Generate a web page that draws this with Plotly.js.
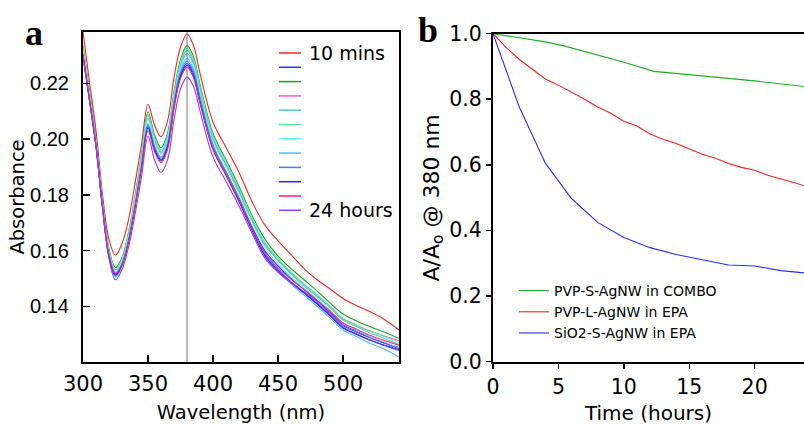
<!DOCTYPE html>
<html><head><meta charset="utf-8">
<script src="https://cdn.plot.ly/plotly-3.0.1.min.js"></script>
<style>html,body{margin:0;padding:0;background:#fff;overflow:hidden}#chart{width:804px;height:425px}</style>
</head><body><div id="chart"></div>
<script>
// ---------- Panel a: absorbance spectra ----------
const wavelength = [300,305,310,315,320,325,330,335,340,345,350,355,360,365,370,375,380,385,390,400,410,420,430,440,450,460,470,480,490,500,510,520,530,543];
const spec10min  = [.2385,.2205,.2030,.1800,.1640,.1583,.1625,.1710,.1840,.1980,.2125,.2050,.2008,.2065,.2220,.2330,.2377,.2335,.2235,.2060,.1970,.1880,.1775,.1690,.1635,.1585,.1535,.1495,.1462,.1428,.1403,.1382,.1358,.1315];
const specDarkBlue = [.2305,.2145,.1980,.1760,.1582,.1515,.1552,.1638,.1765,.1908,.2045,.1968,.1925,.1975,.2122,.2230,.2272,.2235,.2140,.1975,.1882,.1788,.1685,.1598,.1545,.1500,.1460,.1420,.1378,.1335,.1312,.1290,.1272,.1252];
const specGreen  = [.2335,.2170,.2000,.1780,.1605,.1538,.1575,.1665,.1795,.1945,.2098,.2015,.1968,.2020,.2170,.2285,.2335,.2295,.2195,.2020,.1925,.1830,.1725,.1640,.1580,.1535,.1495,.1455,.1412,.1372,.1348,.1328,.1310,.1285];
const specMagenta = [.2310,.2150,.1985,.1765,.1590,.1522,.1560,.1648,.1778,.1925,.2075,.1995,.1950,.1998,.2148,.2260,.2308,.2270,.2172,.1998,.1905,.1810,.1708,.1618,.1565,.1518,.1478,.1440,.1398,.1355,.1333,.1312,.1296,.1276];
const specTeal   = [.2325,.2160,.1990,.1770,.1595,.1530,.1565,.1655,.1785,.1935,.2085,.2000,.1955,.2005,.2155,.2268,.2318,.2278,.2180,.2005,.1910,.1815,.1710,.1622,.1565,.1515,.1472,.1435,.1395,.1350,.1328,.1305,.1288,.1262];
const specLightGreen = [.2330,.2165,.1995,.1775,.1600,.1532,.1570,.1660,.1790,.1940,.2090,.2005,.1960,.2012,.2162,.2276,.2326,.2286,.2188,.2012,.1918,.1822,.1718,.1628,.1572,.1522,.1480,.1442,.1400,.1356,.1334,.1312,.1295,.1270];
const specCyan   = [.2315,.2152,.1985,.1765,.1588,.1525,.1560,.1648,.1776,.1922,.2070,.1990,.1945,.1995,.2145,.2255,.2302,.2262,.2165,.1992,.1898,.1802,.1700,.1608,.1552,.1505,.1465,.1428,.1385,.1338,.1315,.1292,.1275,.1250];
const specLightBlue = [.2300,.2140,.1975,.1755,.1578,.1505,.1545,.1632,.1760,.1905,.2055,.1975,.1935,.1985,.2135,.2245,.2290,.2250,.2152,.1980,.1882,.1785,.1680,.1582,.1525,.1480,.1440,.1400,.1358,.1315,.1292,.1268,.1250,.1218];
const specMedBlue = [.2300,.2140,.1975,.1755,.1578,.1510,.1548,.1634,.1760,.1904,.2050,.1972,.1930,.1980,.2128,.2238,.2280,.2240,.2145,.1975,.1880,.1785,.1682,.1588,.1532,.1488,.1450,.1410,.1368,.1325,.1302,.1280,.1262,.1240];
const specBlue   = [.2300,.2140,.1975,.1755,.1580,.1512,.1548,.1632,.1756,.1898,.2040,.1962,.1920,.1970,.2116,.2225,.2265,.2226,.2132,.1962,.1870,.1775,.1672,.1580,.1528,.1485,.1447,.1408,.1366,.1322,.1300,.1280,.1263,.1245];
const specPinkRed = [.2305,.2145,.1980,.1760,.1585,.1518,.1552,.1635,.1758,.1895,.2030,.1955,.1915,.1962,.2108,.2218,.2258,.2220,.2128,.1965,.1875,.1782,.1680,.1590,.1538,.1497,.1460,.1422,.1382,.1340,.1318,.1297,.1280,.1260];
const spec24h    = [.2295,.2135,.1970,.1750,.1570,.1495,.1532,.1612,.1730,.1865,.2010,.1925,.1880,.1925,.2070,.2180,.2222,.2188,.2100,.1935,.1848,.1760,.1662,.1572,.1522,.1485,.1452,.1415,.1373,.1330,.1308,.1288,.1270,.1248];
const spectra = [spec10min, specDarkBlue, specGreen, specMagenta, specTeal, specLightGreen, specCyan, specLightBlue, specMedBlue, specBlue, specPinkRed, spec24h];
const spectraLabels = ["10 mins","","","","","","","","","","","24 hours"];
const spectraColors = ["#ff2222","#2233ff","#22a022","#ff55dd","#55c8c8","#55ee9a","#55ffff","#55b8ff","#5577ff","#2222ff","#ff2266","#8c3cff"];
const markerWavelength = 380;
const xTicksA = [300,350,400,450,500];
const yTicksA = [0.14,0.16,0.18,0.20,0.22];

// ---------- Panel b: normalized absorbance vs time ----------
const timeGreen = [0,2,4,5.5,8,10,12.3,16,20,24];
const ratioGreen = [1.0,0.987,0.975,0.962,0.935,0.913,0.885,0.871,0.856,0.838];
const timeRed = [0,1,2,3,4,5,6,7,8,9,10,11,12,13,14,15,16,17,18,19,20,21,22,23,24];
const ratioRed = [1.0,0.958,0.922,0.892,0.862,0.843,0.822,0.800,0.776,0.757,0.733,0.718,0.694,0.678,0.665,0.648,0.632,0.620,0.604,0.592,0.583,0.568,0.558,0.546,0.533];
const timeBlue = [0,2,4,6,8,10,12,14,16,18,20,22,24];
const ratioBlue = [1.0,0.777,0.605,0.497,0.424,0.378,0.347,0.326,0.310,0.294,0.291,0.277,0.269];
const seriesB = [
  {name:"PVP-S-AgNW in COMBO", t:timeGreen, v:ratioGreen, color:"#22aa22"},
  {name:"PVP-L-AgNW in EPA",   t:timeRed,   v:ratioRed,   color:"#ff2020"},
  {name:"SiO2-S-AgNW in EPA",  t:timeBlue,  v:ratioBlue,  color:"#2a2aff"}
];
const xTicksB = [0,5,10,15,20];
const yTicksB = [0.0,0.2,0.4,0.6,0.8,1.0];

const W = 804, H = 425;
const FONT = "DejaVu Sans, Verdana, sans-serif";

const traces = [];
spectra.forEach((s, i) => {
  traces.push({x: wavelength, y: s, type: "scatter", mode: "lines", name: spectraLabels[i] || ("spectrum " + (i+1)),
    line: {color: spectraColors[i], width: 1.1, shape: "spline", smoothing: 1.0}, xaxis: "x", yaxis: "y", showlegend: false});
});
seriesB.forEach(s => {
  traces.push({x: s.t, y: s.v, type: "scatter", mode: "lines", name: s.name,
    line: {color: s.color, width: 1.1}, xaxis: "x2", yaxis: "y2", legend: "legend2", showlegend: true});
});

// legend for panel a drawn as line samples + two labels
const shapes = [{type: "line", xref: "x", yref: "y domain", x0: markerWavelength, x1: markerWavelength, y0: 0, y1: 1,
  line: {color: "#777", width: 1}}];
const annotations = [];
const legA = {x0: 279, x1: 301, top: 53, step: 14.3};
spectraColors.forEach((c, i) => {
  const yp = 1 - (legA.top + i*legA.step)/H;
  shapes.push({type: "line", xref: "paper", yref: "paper", x0: legA.x0/W, x1: legA.x1/W, y0: yp, y1: yp,
    line: {color: c, width: 1.5}});
  if (spectraLabels[i]) {
    annotations.push({xref: "paper", yref: "paper", x: 307/W, y: yp, xanchor: "left", yanchor: "middle",
      text: spectraLabels[i], showarrow: false, font: {family: FONT, size: 19, color: "#000"}});
  }
});
annotations.push({xref:"paper", yref:"paper", x: 34/W, y: 1 - 33/H, xanchor:"center", yanchor:"middle", text:"<b>a</b>",
  showarrow:false, font:{family:"Liberation Serif, Times New Roman, serif", size:36, color:"#000"}});
annotations.push({xref:"paper", yref:"paper", x: 428/W, y: 1 - 30/H, xanchor:"center", yanchor:"middle", text:"<b>b</b>",
  showarrow:false, font:{family:"Liberation Serif, Times New Roman, serif", size:36, color:"#000"}});

const axisCommon = {showline: true, linecolor: "#000", linewidth: 2, showgrid: false, zeroline: false,
  tickcolor: "#000", tickwidth: 1.5, ticks: "inside", ticklen: 7, tickmode: "array", mirror: true};

const layout = {
  width: W, height: H, margin: {l: 0, r: 0, t: 0, b: 0}, paper_bgcolor: "#fff", plot_bgcolor: "#fff",
  font: {family: FONT, color: "#000"},
  xaxis: Object.assign({}, axisCommon, {domain: [83/W, 399/W], range: [300, 543], anchor: "y",
    tickvals: xTicksA, ticktext: xTicksA.map(String), tickfont: {family: FONT, size: 21}, ticklabelstandoff: 2,
    title: {text: "Wavelength (nm)", font: {family: FONT, size: 19.5}, standoff: 10}}),
  yaxis: Object.assign({}, axisCommon, {domain: [1 - 362/H, 1 - 32/H], range: [0.12, 0.2384], anchor: "x",
    tickvals: yTicksA, ticktext: yTicksA.map(v => v.toFixed(2)), tickfont: {family: "Liberation Sans, Arial, sans-serif", size: 20}, ticklabelstandoff: 8,
    title: {text: "Absorbance", font: {family: FONT, size: 19.5}, standoff: 0}}),
  xaxis2: Object.assign({}, axisCommon, {domain: [493/W, 1], range: [0, 23.77], anchor: "y2", ticks: "outside", ticklen: 5,
    mirror: true, tickvals: xTicksB, ticktext: xTicksB.map(String), tickfont: {family: FONT, size: 20.5},
    title: {text: "Time (hours)", font: {family: FONT, size: 20}, standoff: 8}}),
  yaxis2: Object.assign({}, axisCommon, {domain: [1 - 362/H, 1 - 33.7/H], range: [-0.002, 1.0], anchor: "x2", ticks: "outside", ticklen: 5,
    mirror: false, tickvals: yTicksB, ticktext: yTicksB.map(v => v.toFixed(1)), tickfont: {family: FONT, size: 20.5},
    title: {text: "A/A<sub>o</sub> @ 380 nm", font: {family: FONT, size: 22}, standoff: 4}}),
  legend2: {x: 514/W, y: 1 - 275/H, xanchor: "left", yanchor: "top", bgcolor: "rgba(0,0,0,0)", borderwidth: 0,
    font: {family: FONT, size: 14, color: "#000"}, traceorder: "normal", tracegroupgap: 0},
  showlegend: true,
  shapes: shapes,
  annotations: annotations
};

Plotly.newPlot("chart", traces, layout, {staticPlot: true, displayModeBar: false});
</script></body></html>
